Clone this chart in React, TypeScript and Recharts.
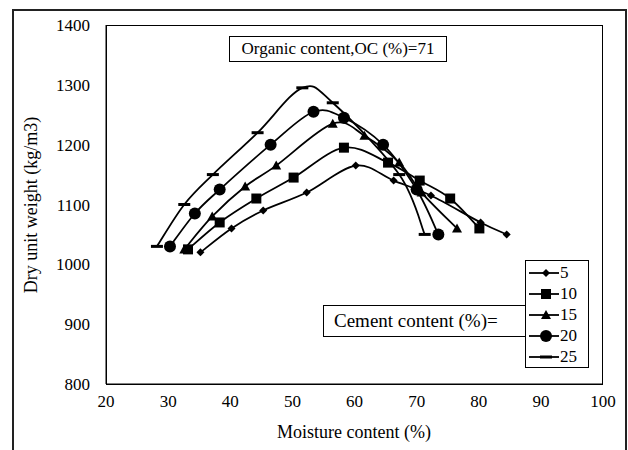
import { LineChart, Line, XAxis, YAxis } from 'recharts';

const moistureTicks = [20, 30, 40, 50, 60, 70, 80, 90, 100];
const weightTicks = [800, 900, 1000, 1100, 1200, 1300, 1400];

// moisture content (%) / dry unit weight (kg/m3) for each cement content
const cement5 = [
  { mc: 35.2, dw: 1020 }, { mc: 40.2, dw: 1060 }, { mc: 45.3, dw: 1090 },
  { mc: 52.3, dw: 1120 }, { mc: 60.2, dw: 1165 }, { mc: 66.3, dw: 1140 },
  { mc: 72.3, dw: 1115 }, { mc: 80.3, dw: 1070 }, { mc: 84.5, dw: 1050 },
];
const cement10 = [
  { mc: 33.2, dw: 1025 }, { mc: 38.3, dw: 1070 }, { mc: 44.2, dw: 1110 },
  { mc: 50.2, dw: 1145 }, { mc: 58.3, dw: 1195 }, { mc: 65.4, dw: 1170 },
  { mc: 70.5, dw: 1140 }, { mc: 75.4, dw: 1110 }, { mc: 80.1, dw: 1060 },
];
const cement15 = [
  { mc: 32.6, dw: 1025 }, { mc: 37.1, dw: 1080 }, { mc: 42.4, dw: 1130 },
  { mc: 47.4, dw: 1165 }, { mc: 56.5, dw: 1235 }, { mc: 61.6, dw: 1215 },
  { mc: 67.2, dw: 1170 }, { mc: 70.8, dw: 1120 }, { mc: 76.5, dw: 1060 },
];
const cement20 = [
  { mc: 30.3, dw: 1030 }, { mc: 34.3, dw: 1085 }, { mc: 38.3, dw: 1125 },
  { mc: 46.5, dw: 1200 }, { mc: 53.4, dw: 1255 }, { mc: 58.3, dw: 1245 },
  { mc: 64.6, dw: 1200 }, { mc: 70.0, dw: 1125 }, { mc: 73.5, dw: 1050 },
];
const cement25 = [
  { mc: 28.2, dw: 1030 }, { mc: 32.6, dw: 1100 }, { mc: 37.2, dw: 1150 },
  { mc: 44.4, dw: 1220 }, { mc: 51.6, dw: 1295 }, { mc: 56.5, dw: 1270 },
  { mc: 67.2, dw: 1150 }, { mc: 71.3, dw: 1050 },
];

const seriesNames = ['5', '10', '15', '20', '25'];
const seriesData = [cement5, cement10, cement15, cement20, cement25];
const markers = ['diamond', 'square', 'triangle', 'circle', 'dash'];

const FONT = '"Liberation Serif", "Times New Roman", serif';

// Catmull-Rom style smoothing, like spreadsheet "smoothed line" charts
function smoothCurve(context: any) {
  let pts: number[][] = [];
  return {
    areaStart() {},
    areaEnd() {},
    lineStart() {
      pts = [];
    },
    point(x: number, y: number) {
      pts.push([+x, +y]);
    },
    lineEnd() {
      if (!pts.length) return;
      context.moveTo(pts[0][0], pts[0][1]);
      const k = 1 / 6;
      for (let i = 0; i < pts.length - 1; i++) {
        const p0 = pts[Math.max(i - 1, 0)];
        const p1 = pts[i];
        const p2 = pts[i + 1];
        const p3 = pts[Math.min(i + 2, pts.length - 1)];
        context.bezierCurveTo(
          p1[0] + (p2[0] - p0[0]) * k,
          p1[1] + (p2[1] - p0[1]) * k,
          p2[0] - (p3[0] - p1[0]) * k,
          p2[1] - (p3[1] - p1[1]) * k,
          p2[0],
          p2[1]
        );
      }
    },
  };
}

function Marker({ kind, cx, cy }: { kind: string; cx: number; cy: number }) {
  if (cx == null || cy == null) return null;
  switch (kind) {
    case 'diamond':
      return <polygon points={`${cx},${cy - 4} ${cx + 4},${cy} ${cx},${cy + 4} ${cx - 4},${cy}`} fill="#000" />;
    case 'square':
      return <rect x={cx - 5} y={cy - 5} width={10} height={10} fill="#000" />;
    case 'triangle':
      return <polygon points={`${cx},${cy - 5} ${cx + 5},${cy + 4} ${cx - 5},${cy + 4}`} fill="#000" />;
    case 'circle':
      return <circle cx={cx} cy={cy} r={6} fill="#000" />;
    default:
      return <rect x={cx - 6} y={cy - 1.5} width={12} height={3} fill="#000" />;
  }
}

function XTick({ x, y, payload }: any) {
  return (
    <text x={x} y={y} dy={12} textAnchor="middle" fontFamily={FONT} fontSize={17} fill="#000">
      {payload.value}
    </text>
  );
}

function YTick({ x, y, payload }: any) {
  return (
    <text x={x} y={y} dy={6} textAnchor="end" fontFamily={FONT} fontSize={17} fill="#000">
      {payload.value}
    </text>
  );
}

function LegendBox() {
  return (
    <div style={{ border: '1px solid #000', background: '#fff', width: 64, height: 108, padding: '1px 0', boxSizing: 'border-box' }}>
      {seriesNames.map((name, i) => (
        <div key={name} style={{ display: 'flex', alignItems: 'center', height: 21 }}>
          <svg width={32} height={14} style={{ marginLeft: 2 }}>
            <line x1={1} y1={7} x2={31} y2={7} stroke="#000" strokeWidth={1.8} />
            <Marker kind={markers[i]} cx={18} cy={7} />
          </svg>
          <span style={{ fontFamily: FONT, fontSize: 17, lineHeight: '17px', color: '#000' }}>{name}</span>
        </div>
      ))}
    </div>
  );
}

export default function App() {
  return (
    <div style={{ position: 'absolute', left: 0, top: 0, width: 628, height: 450, background: '#fff', overflow: 'hidden' }}>
      <LineChart width={628} height={450} margin={{ top: 25, right: 25, bottom: 36, left: 0 }}>
        <XAxis
          type="number"
          dataKey="mc"
          domain={[20, 100]}
          ticks={moistureTicks}
          allowDuplicatedCategory={false}
          tickLine={false}
          height={30}
          tickSize={0}
          tickMargin={11}
          axisLine={{ stroke: '#000', strokeWidth: 1 }}
          tick={<XTick />}
        />
        <YAxis
          type="number"
          dataKey="dw"
          domain={[800, 1400]}
          ticks={weightTicks}
          tickLine={false}
          width={106}
          tickSize={0}
          tickMargin={16}
          axisLine={{ stroke: '#000', strokeWidth: 1 }}
          tick={<YTick />}
        />
        {seriesData.map((data, i) => (
          <Line
            key={seriesNames[i]}
            data={data}
            dataKey="dw"
            name={seriesNames[i]}
            type={smoothCurve as any}
            stroke="#000"
            strokeWidth={1.8}
            isAnimationActive={false}
            dot={(p: any) => <Marker key={`${i}-${p.index}`} kind={markers[i]} cx={p.cx} cy={p.cy} />}
            activeDot={false}
          />
        ))}
      </LineChart>

      {/* plot area frame */}
      <div style={{ position: 'absolute', left: 106, top: 25, width: 497, height: 360, border: '1px solid #000', boxSizing: 'border-box', pointerEvents: 'none' }} />

      {/* outer chart frame */}
      <div style={{ position: 'absolute', left: 12, top: 9, width: 615, height: 470, border: '2px solid #222', boxSizing: 'border-box', pointerEvents: 'none' }} />

      <div style={{ position: 'absolute', left: 229, top: 36, width: 218, height: 26, border: '1px solid #000', boxSizing: 'border-box', background: '#fff', fontFamily: FONT, fontSize: 17, lineHeight: '24px', textAlign: 'center', color: '#000', whiteSpace: 'nowrap' }}>
        Organic content,OC (%)=71
      </div>

      <div style={{ position: 'absolute', left: 323, top: 305, width: 203, height: 32, border: '1px solid #000', boxSizing: 'border-box', background: '#fff', fontFamily: FONT, fontSize: 19, lineHeight: '30px', paddingLeft: 10, color: '#000', whiteSpace: 'nowrap' }}>
        Cement content (%)=
      </div>

      <div style={{ position: 'absolute', left: 525, top: 260 }}>
        <LegendBox />
      </div>

      <div style={{ position: 'absolute', left: 254, top: 421, width: 200, textAlign: 'center', fontFamily: FONT, fontSize: 18, lineHeight: '22px', color: '#000' }}>
        Moisture content (%)
      </div>

      <div style={{ position: 'absolute', left: 31, top: 205, width: 0, height: 0 }}>
        <div style={{ position: 'absolute', left: -110, top: -11, width: 220, textAlign: 'center', transform: 'rotate(-90deg)', fontFamily: FONT, fontSize: 18, lineHeight: '22px', color: '#000', whiteSpace: 'nowrap' }}>
          Dry unit weight (kg/m3)
        </div>
      </div>
    </div>
  );
}
